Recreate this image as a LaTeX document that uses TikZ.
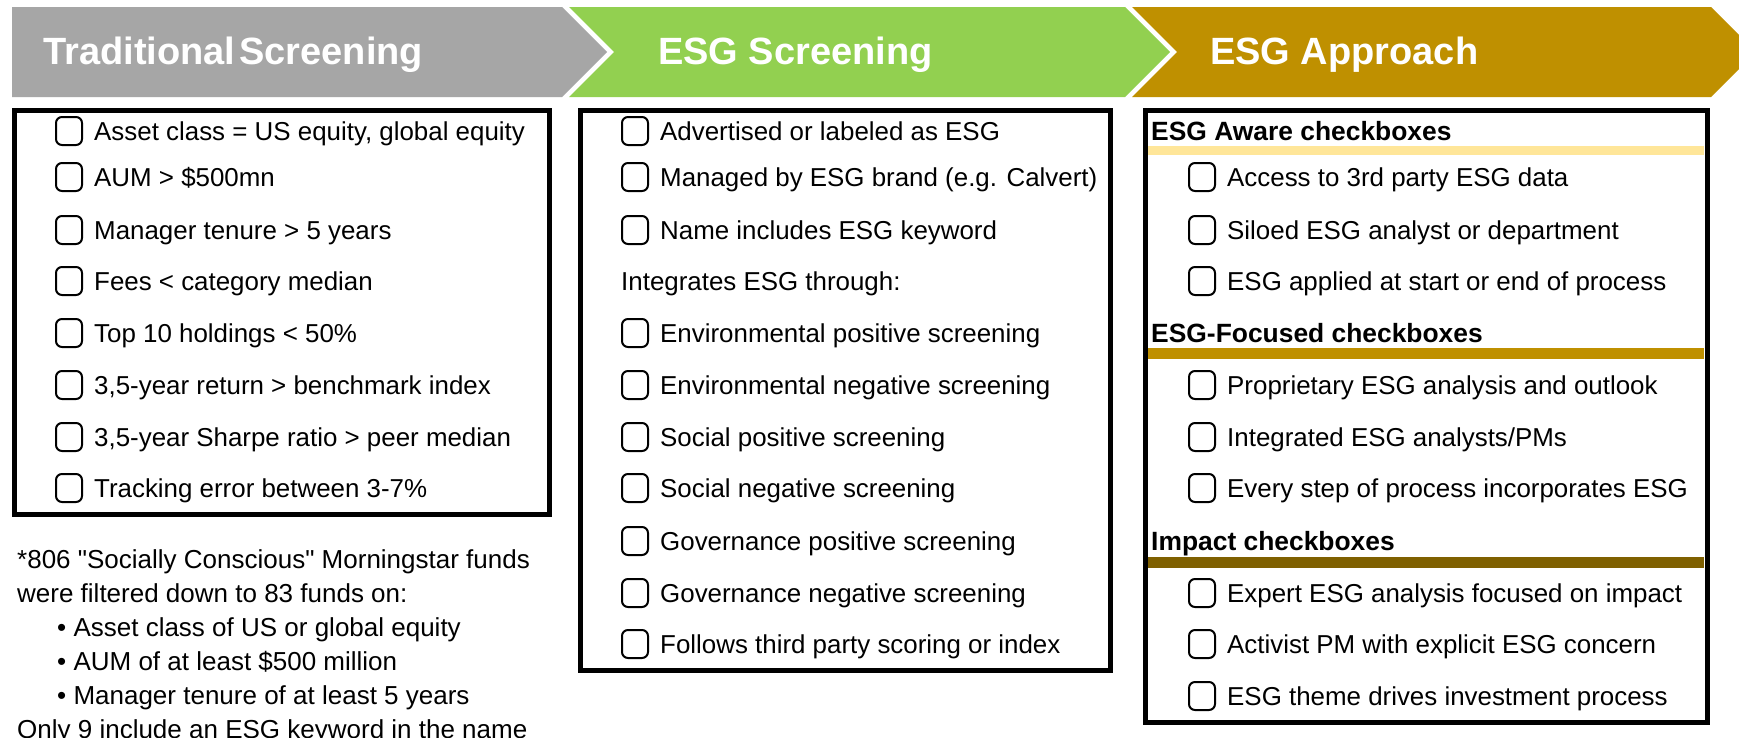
\documentclass[tikz,border=0pt]{standalone}
\usepackage{fontspec}
\setmainfont{Liberation Sans}[Ligatures=TeXOff]
\usetikzlibrary{positioning}
\definecolor{tradgrey}{HTML}{A6A6A6}
\definecolor{esggreen}{HTML}{92D050}
\definecolor{esggold}{HTML}{BF9000}
\definecolor{awareband}{HTML}{FFE699}
\definecolor{impactband}{HTML}{7F6000}
\tikzset{
  bannertext/.style={text=white, font=\fontsize{38}{44}\selectfont\bfseries, anchor=base west, inner sep=0pt},
  panel/.style={draw=black, line width=5pt},
  chkbox/.style={draw=black, line width=2pt, rounded corners=6pt, minimum width=26pt, minimum height=28pt, inner sep=0pt},
  item/.style={font=\fontsize{25.9}{30}\selectfont, anchor=west, inner sep=0pt, text height=21pt, text depth=3pt},
  heading/.style={item, font=\fontsize{26.4}{30}\selectfont\bfseries},
  note/.style={item, font=\fontsize{26}{30}\selectfont},
  node distance=11pt
}
\begin{document}
\begin{tikzpicture}[x=1pt, y=-1pt]
            \useasboundingbox (0,0) rectangle (1739,737);
            \fill[white] (0,0) rectangle (1739,737);
            \fill[tradgrey] (12,7) -- (562,7) -- (607,52) -- (562,97) -- (12,97) -- cycle;
            \fill[esggreen] (569,7) -- (1125,7) -- (1170,52) -- (1125,97) -- (569,97) -- (614,52) -- cycle;
            \fill[esggold] (1132,7) -- (1711,7) -- (1756,52) -- (1711,97) -- (1132,97) -- (1177,52) -- cycle;
            \node[bannertext] (trad) at (43,64) {Traditional\hspace{4pt}Screening};
            \node[bannertext] (screen) at (658,64) {ESG Screening};
            \node[bannertext] (approach) at (1210,64) {ESG Approach};
            \draw[panel] (14,110) rectangle (549,514);
            \draw[panel] (580,110) rectangle (1110,670);
            \draw[panel] (1145,110) rectangle (1707,722);
            \fill[awareband] (1148,146) rectangle (1704,155);
            \fill[esggold] (1148,348) rectangle (1704,359);
            \fill[impactband] (1148,557) rectangle (1704,568);
            \foreach \y/\txt [count=\i] in {131/{Asset class = US equity, global equity}, 177/{AUM > \$500mn}, 230/{Manager tenure > 5 years}, 281/{Fees < category median}, 333/{Top 10 holdings < 50\%}, 385/{3,5-year return > benchmark index}, 437/{3,5-year Sharpe ratio > peer median}, 488/{Tracking error between 3-7\%}} {
                \node[chkbox] (tc\i) at (69,\y) {};
                \node[item, right=of tc\i] (tt\i) {\txt};
            }
            \foreach \y/\txt [count=\i] in {131/{Advertised or labeled as ESG}, 177/{Managed by ESG brand (e.g. Calvert)}, 230/{Name includes ESG keyword}, 333/{Environmental positive screening}, 385/{Environmental negative screening}, 437/{Social positive screening}, 488/{Social negative screening}, 541/{Governance positive screening}, 593/{Governance negative screening}, 644/{Follows third party scoring or index}} {
                \node[chkbox] (sc\i) at (635,\y) {};
                \node[item, right=of sc\i] (st\i) {\txt};
            }
            \node[item] (through) at (621,281) {Integrates ESG through:};
            \node[heading] (aware) at (1151,131) {ESG Aware checkboxes};
            \node[heading] (focused) at (1151,333) {ESG-Focused checkboxes};
            \node[heading] (impact) at (1151,541) {Impact checkboxes};
            \foreach \y/\txt [count=\i] in {177/{Access to 3rd party ESG data}, 230/{Siloed ESG analyst or department}, 281/{ESG applied at start or end of process}, 385/{Proprietary ESG analysis and outlook}, 437/{Integrated ESG analysts/PMs}, 488/{Every step of process incorporates ESG}, 593/{Expert ESG analysis focused on impact}, 644/{Activist PM with explicit ESG concern}, 696/{ESG theme drives investment process}} {
                \node[chkbox] (ac\i) at (1202,\y) {};
                \node[item, right=of ac\i] (at\i) {\txt};
            }
            \node[note] (note1) at (17,559) {*806 "Socially Conscious" Morningstar funds};
            \node[note] (note2) at (17,593) {were filtered down to 83 funds on:};
            \node[note] (note3) at (57,627) {• Asset class of US or global equity};
            \node[note] (note4) at (57,661) {• AUM of at least \$500 million};
            \node[note] (note5) at (57,695) {• Manager tenure of at least 5 years};
            \node[note] (note6) at (17,729) {Only 9 include an ESG keyword in the name};
        \end{tikzpicture}
\end{document}
